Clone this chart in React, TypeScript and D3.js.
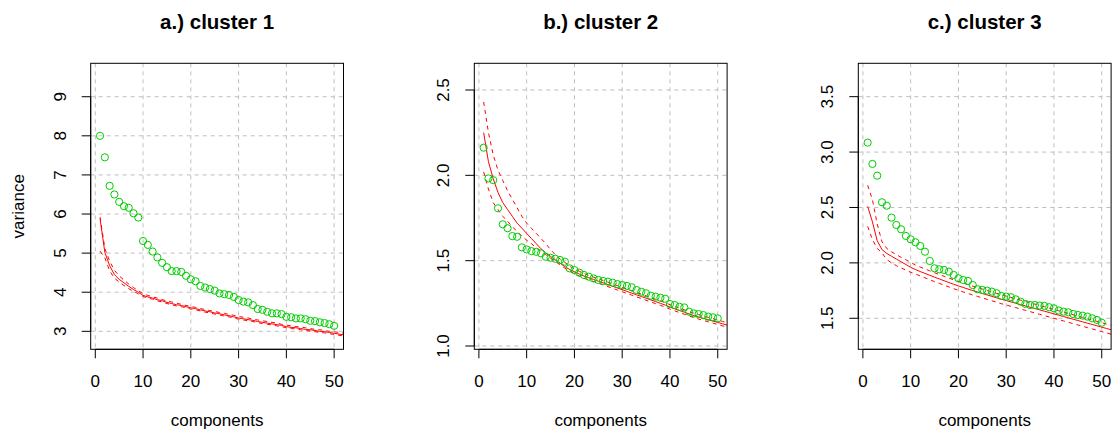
import React from "react";
import * as d3 from "d3";

// ---------- data ----------
const titles = ["a.) cluster 1", "b.) cluster 2", "c.) cluster 3"];
const xTicks = [0, 10, 20, 30, 40, 50];

const obs1 = [8.0, 7.45, 6.72, 6.5, 6.31, 6.2, 6.16, 6.02, 5.91, 5.31, 5.21, 5.04, 4.89, 4.75, 4.64, 4.54, 4.54, 4.52, 4.42, 4.33,
  4.28, 4.16, 4.12, 4.08, 4.04, 3.97, 3.95, 3.93, 3.88, 3.8, 3.76, 3.74, 3.67, 3.57, 3.55, 3.5, 3.46, 3.46, 3.44, 3.37,
  3.36, 3.33, 3.33, 3.31, 3.27, 3.26, 3.23, 3.21, 3.18, 3.14];
const mean1 = [5.88, 5.02, 4.68, 4.45, 4.33, 4.24, 4.15, 4.07, 4.0, 3.92, 3.88, 3.85, 3.81, 3.78, 3.74, 3.71, 3.68, 3.66, 3.63, 3.6,
  3.58, 3.55, 3.52, 3.5, 3.47, 3.45, 3.42, 3.4, 3.37, 3.34, 3.32, 3.3, 3.28, 3.25, 3.23, 3.21, 3.19, 3.17, 3.15, 3.12,
  3.1, 3.09, 3.07, 3.05, 3.04, 3.02, 3.0, 2.99, 2.97, 2.95, 2.93, 2.91];
const upper1 = [5.92, 5.12, 4.8, 4.56, 4.42, 4.31, 4.21, 4.12, 4.04, 3.96, 3.92, 3.88, 3.85, 3.81, 3.78, 3.75, 3.72, 3.69, 3.66, 3.64,
  3.61, 3.58, 3.56, 3.53, 3.51, 3.48, 3.46, 3.43, 3.41, 3.38, 3.36, 3.34, 3.31, 3.29, 3.27, 3.25, 3.23, 3.21, 3.18, 3.16,
  3.14, 3.12, 3.11, 3.09, 3.07, 3.05, 3.04, 3.02, 3.0, 2.99, 2.97, 2.95];
const lower1 = [5.05, 4.88, 4.55, 4.36, 4.26, 4.17, 4.09, 4.02, 3.96, 3.89, 3.85, 3.82, 3.78, 3.75, 3.71, 3.68, 3.65, 3.63, 3.6, 3.57,
  3.55, 3.52, 3.49, 3.47, 3.44, 3.42, 3.39, 3.37, 3.34, 3.31, 3.29, 3.27, 3.25, 3.22, 3.2, 3.18, 3.16, 3.14, 3.12, 3.09,
  3.07, 3.06, 3.04, 3.02, 3.01, 2.99, 2.97, 2.96, 2.94, 2.92, 2.9, 2.88];

const obs2 = [2.162, 1.982, 1.972, 1.807, 1.713, 1.69, 1.644, 1.64, 1.578, 1.566, 1.556, 1.552, 1.543, 1.523, 1.517, 1.511, 1.504, 1.494, 1.455, 1.445,
  1.43, 1.416, 1.406, 1.396, 1.387, 1.381, 1.377, 1.371, 1.363, 1.357, 1.352, 1.344, 1.328, 1.318, 1.309, 1.295, 1.289, 1.283, 1.277, 1.246,
  1.24, 1.23, 1.226, 1.201, 1.191, 1.187, 1.181, 1.172, 1.168, 1.162];
const mean2 = [2.25, 2.08, 1.98, 1.9, 1.84, 1.8, 1.76, 1.72, 1.69, 1.66, 1.63, 1.6, 1.57, 1.545, 1.525, 1.505, 1.485, 1.465, 1.448, 1.435,
  1.422, 1.41, 1.4, 1.39, 1.38, 1.37, 1.36, 1.35, 1.34, 1.33, 1.32, 1.31, 1.3, 1.29, 1.28, 1.27, 1.26, 1.25, 1.24, 1.228,
  1.218, 1.208, 1.198, 1.188, 1.178, 1.17, 1.162, 1.154, 1.146, 1.138, 1.13, 1.122];
const upper2 = [2.43, 2.25, 2.12, 2.03, 1.97, 1.91, 1.86, 1.81, 1.76, 1.72, 1.69, 1.66, 1.63, 1.6, 1.565, 1.535, 1.51, 1.49, 1.468, 1.452,
  1.438, 1.425, 1.414, 1.404, 1.394, 1.384, 1.374, 1.364, 1.354, 1.344, 1.334, 1.324, 1.314, 1.304, 1.294, 1.284, 1.274, 1.264, 1.254, 1.242,
  1.232, 1.222, 1.212, 1.202, 1.192, 1.184, 1.176, 1.168, 1.16, 1.152, 1.144, 1.136];
const lower2 = [2.02, 1.92, 1.84, 1.8, 1.76, 1.73, 1.7, 1.67, 1.645, 1.62, 1.6, 1.575, 1.555, 1.535, 1.515, 1.495, 1.476, 1.456, 1.438, 1.424,
  1.41, 1.398, 1.388, 1.378, 1.368, 1.358, 1.348, 1.338, 1.328, 1.318, 1.308, 1.298, 1.288, 1.278, 1.268, 1.258, 1.248, 1.238, 1.228, 1.216,
  1.206, 1.196, 1.186, 1.176, 1.166, 1.158, 1.15, 1.142, 1.134, 1.126, 1.118, 1.11];

const obs3 = [3.085, 2.893, 2.787, 2.547, 2.516, 2.408, 2.342, 2.303, 2.243, 2.213, 2.186, 2.153, 2.101, 2.017, 1.951, 1.942, 1.936, 1.921, 1.891, 1.861,
  1.846, 1.837, 1.8, 1.762, 1.756, 1.75, 1.741, 1.726, 1.702, 1.696, 1.69, 1.671, 1.65, 1.63, 1.62, 1.62, 1.615, 1.612, 1.6, 1.59,
  1.57, 1.56, 1.554, 1.539, 1.53, 1.524, 1.515, 1.5, 1.485, 1.46];
const mean3 = [2.51, 2.37, 2.2, 2.12, 2.085, 2.06, 2.035, 2.01, 1.985, 1.96, 1.94, 1.922, 1.905, 1.888, 1.871, 1.855, 1.839, 1.823, 1.807, 1.792,
  1.778, 1.764, 1.75, 1.737, 1.724, 1.711, 1.698, 1.685, 1.672, 1.66, 1.648, 1.636, 1.624, 1.612, 1.6, 1.588, 1.576, 1.564, 1.552, 1.54,
  1.528, 1.516, 1.504, 1.492, 1.48, 1.468, 1.456, 1.444, 1.432, 1.42, 1.408, 1.396];
const upper3 = [2.7, 2.57, 2.35, 2.19, 2.13, 2.1, 2.075, 2.05, 2.028, 2.005, 1.98, 1.962, 1.945, 1.928, 1.911, 1.895, 1.879, 1.863, 1.847, 1.832,
  1.818, 1.804, 1.79, 1.777, 1.764, 1.751, 1.738, 1.725, 1.712, 1.7, 1.688, 1.676, 1.664, 1.652, 1.64, 1.628, 1.616, 1.604, 1.592, 1.58,
  1.568, 1.556, 1.544, 1.532, 1.52, 1.508, 1.496, 1.484, 1.472, 1.46, 1.448, 1.436];
const lower3 = [2.33, 2.21, 2.13, 2.09, 2.03, 2.0, 1.975, 1.955, 1.935, 1.915, 1.9, 1.882, 1.865, 1.848, 1.831, 1.815, 1.799, 1.783, 1.767, 1.752,
  1.738, 1.724, 1.71, 1.697, 1.684, 1.671, 1.658, 1.645, 1.632, 1.62, 1.608, 1.596, 1.584, 1.572, 1.56, 1.548, 1.536, 1.524, 1.512, 1.5,
  1.488, 1.476, 1.464, 1.452, 1.44, 1.428, 1.416, 1.404, 1.392, 1.38, 1.368, 1.356];

const yTicks1 = [3, 4, 5, 6, 7, 8, 9];
const yTicks2 = [1.0, 1.5, 2.0, 2.5];
const yTicks3 = [1.5, 2.0, 2.5, 3.0, 3.5];

const panels = [
  { title: titles[0], obs: obs1, mean: mean1, upper: upper1, lower: lower1, yTicks: yTicks1, yDomain: [2.54, 9.855], fmt: "d", ylab: "variance" },
  { title: titles[1], obs: obs2, mean: mean2, upper: upper2, lower: lower2, yTicks: yTicks2, yDomain: [0.9807, 2.6565], fmt: ".1f", ylab: "" },
  { title: titles[2], obs: obs3, mean: mean3, upper: upper3, lower: lower3, yTicks: yTicks3, yDomain: [1.2202, 3.801], fmt: ".1f", ylab: "" },
];

// ---------- layout ----------
const W = 1114;
const H = 431;
const lefts = [90.7, 474.3, 858.3];
const plotW = 252.8;
const top = 63.3;
const bottom = 349.3;
const FONT = "'Liberation Sans', Arial, Helvetica, sans-serif";
const GREEN = "#00CD00";
const RED = "#FF0000";
const GRID = "#BEBEBE";

function Panel({ p, idx }: { p: (typeof panels)[number]; idx: number }) {
  const left = lefts[idx];
  const right = left + plotW;
  const x = d3.scaleLinear().domain([-0.96, 51.96]).range([left, right]);
  const y = d3.scaleLinear().domain(p.yDomain).range([bottom, top]);
  const fmt = d3.format(p.fmt);
  const line = d3
    .line<number>()
    .x((_, i) => x(i + 1))
    .y((d) => y(d));
  const clipId = `clip${idx}`;
  const cx = (left + right) / 2;
  return (
    <g>
      <defs>
        <clipPath id={clipId}>
          <rect x={left} y={top} width={plotW} height={bottom - top} />
        </clipPath>
      </defs>
      <text x={cx} y={29} textAnchor="middle" fontFamily={FONT} fontWeight="bold" fontSize={20.5}>
        {p.title}
      </text>
      {/* grid */}
      <g stroke={GRID} strokeWidth={1} strokeDasharray="4,4" fill="none">
        {xTicks.map((t) => (
          <line key={"gx" + t} x1={x(t)} x2={x(t)} y1={top} y2={bottom} />
        ))}
        {p.yTicks.map((t) => (
          <line key={"gy" + t} x1={left} x2={right} y1={y(t)} y2={y(t)} />
        ))}
      </g>
      {/* simulated lines */}
      <g clipPath={`url(#${clipId})`} fill="none" stroke={RED} strokeWidth={1}>
        <path d={line(p.mean) || ""} />
        <path d={line(p.upper) || ""} strokeDasharray="4,4" />
        <path d={line(p.lower) || ""} strokeDasharray="4,4" />
      </g>
      {/* observed points */}
      <g fill="none" stroke={GREEN} strokeWidth={1}>
        {p.obs.map((v, i) => (
          <circle key={i} cx={x(i + 1)} cy={y(v)} r={3.6} />
        ))}
      </g>
      {/* box */}
      <rect x={left} y={top} width={plotW} height={bottom - top} fill="none" stroke="#000" strokeWidth={1} />
      {/* x axis */}
      <g stroke="#000" strokeWidth={1}>
        <line x1={x(0)} x2={x(50)} y1={bottom} y2={bottom} />
        {xTicks.map((t) => (
          <line key={"xt" + t} x1={x(t)} x2={x(t)} y1={bottom} y2={bottom + 9} />
        ))}
      </g>
      {xTicks.map((t) => (
        <text key={"xl" + t} x={x(t)} y={387} textAnchor="middle" fontFamily={FONT} fontSize={17}>
          {t}
        </text>
      ))}
      {/* y axis */}
      <g stroke="#000" strokeWidth={1}>
        <line x1={left} x2={left} y1={y(p.yTicks[0])} y2={y(p.yTicks[p.yTicks.length - 1])} />
        {p.yTicks.map((t) => (
          <line key={"yt" + t} x1={left - 9} x2={left} y1={y(t)} y2={y(t)} />
        ))}
      </g>
      {p.yTicks.map((t) => (
        <text
          key={"yl" + t}
          transform={`translate(${left - 25},${y(t)}) rotate(-90)`}
          textAnchor="middle"
          fontFamily={FONT}
          fontSize={17}
        >
          {fmt(t)}
        </text>
      ))}
      <text x={cx} y={426} textAnchor="middle" fontFamily={FONT} fontSize={17}>
        components
      </text>
      {p.ylab ? (
        <text
          transform={`translate(24,${(top + bottom) / 2}) rotate(-90)`}
          textAnchor="middle"
          fontFamily={FONT}
          fontSize={17}
        >
          {p.ylab}
        </text>
      ) : null}
    </g>
  );
}

export default function App() {
  return (
    <svg
      width={W}
      height={H}
      viewBox={`0 0 ${W} ${H}`}
      style={{ position: "absolute", left: 0, top: 0, background: "#fff" }}
    >
      <rect x={0} y={0} width={W} height={H} fill="#fff" />
      {panels.map((p, i) => (
        <Panel key={i} p={p} idx={i} />
      ))}
    </svg>
  );
}
